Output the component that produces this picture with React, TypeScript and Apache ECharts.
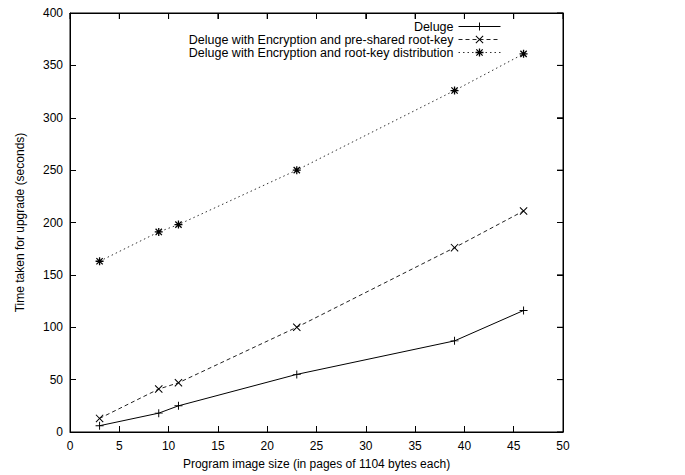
import React, { useEffect, useRef } from "react";
import * as echarts from "echarts";

const xValues = [3, 9, 11, 23, 39, 46];
const delugeValues = [6, 18, 25, 55, 87, 116];
const presharedValues = [13, 41, 47, 100, 176, 211];
const distributionValues = [163, 191, 198, 250, 326, 361];
const seriesNames = [
  "Deluge",
  "Deluge with Encryption and pre-shared root-key",
  "Deluge with Encryption and root-key distribution",
];
const xTickValues = [0, 5, 10, 15, 20, 25, 30, 35, 40, 45, 50];
const yTickValues = [0, 50, 100, 150, 200, 250, 300, 350, 400];

const plusSym = "path://M0,4.4 H10 V5.6 H0 Z M4.4,0 H5.6 V10 H4.4 Z";
const crossSym = "path://M0,0.9 L0.9,0 L10,9.1 L9.1,10 Z M9.1,0 L10,0.9 L0.9,10 L0,9.1 Z";
const starSym =
  "path://M0,4.2 H10 V5.8 H0 Z M4.2,0 H5.8 V10 H4.2 Z M0.5,1.6 L1.6,0.5 L9.5,8.4 L8.4,9.5 Z M8.4,0.5 L9.5,1.6 L1.6,9.5 L0.5,8.4 Z";

const FONT = "'Liberation Sans', Arial, Helvetica, sans-serif";
const X_MAX = 50;
const Y_MAX = 400;

export default function App() {
  const ref = useRef<HTMLDivElement>(null);
  useEffect(() => {
    document.body.style.margin = "0";
    if (!ref.current) return;
    const chart = echarts.init(ref.current, undefined, { renderer: "svg" });
    const zip = (ys: number[]) => xValues.map((x, i) => [x, ys[i]]);
    const axisLine = { show: true, onZero: false, lineStyle: { color: "#000", width: 1 } };
    const axisTick = { show: true, inside: true, length: 6, lineStyle: { color: "#000", width: 1 } };
    chart.setOption({
      animation: false,
      backgroundColor: "#fff",
      textStyle: { fontFamily: FONT },
      grid: {
        left: 70,
        right: 122,
        top: 13,
        bottom: 42,
        show: true,
        borderColor: "#000",
        borderWidth: 1,
      },
      legend: {
        orient: "vertical",
        align: "right",
        right: 179,
        top: 15,
        itemGap: 0,
        itemWidth: 42,
        itemHeight: 10,
        lineStyle: { width: 1 },
        textStyle: { fontFamily: FONT, fontSize: 12.5, lineHeight: 13, color: "#000" },
        data: seriesNames,
      },
      xAxis: [
        {
          type: "value",
          position: "bottom",
          min: 0,
          max: X_MAX,
          interval: 5,
          axisLine,
          axisTick,
          splitLine: { show: false },
          name: "Program image size (in pages of 1104 bytes each)",
          nameLocation: "middle",
          nameGap: 26,
          nameTextStyle: { fontFamily: FONT, fontSize: 12, color: "#000" },
          axisLabel: { margin: 8, fontFamily: FONT, fontSize: 12, color: "#000" },
        },
        {
          type: "value",
          position: "top",
          min: 0,
          max: X_MAX,
          interval: 5,
          axisLine,
          axisTick,
          splitLine: { show: false },
          axisLabel: { show: false },
        },
      ],
      yAxis: [
        {
          type: "value",
          position: "left",
          min: 0,
          max: Y_MAX,
          interval: 50,
          axisLine,
          axisTick,
          splitLine: { show: false },
          name: "Time taken for upgrade (seconds)",
          nameLocation: "middle",
          nameGap: 44,
          nameTextStyle: { fontFamily: FONT, fontSize: 12, color: "#000" },
          axisLabel: { margin: 7, fontFamily: FONT, fontSize: 12, color: "#000" },
        },
        {
          type: "value",
          position: "right",
          min: 0,
          max: Y_MAX,
          interval: 50,
          axisLine,
          axisTick,
          splitLine: { show: false },
          axisLabel: { show: false },
        },
      ],
      series: [
        {
          name: seriesNames[0],
          type: "line",
          xAxisIndex: 0,
          yAxisIndex: 0,
          data: zip(delugeValues),
          symbol: plusSym,
          symbolSize: 8,
          lineStyle: { color: "#000", width: 1, type: "solid" },
          itemStyle: { color: "#000" },
        },
        {
          name: seriesNames[1],
          type: "line",
          xAxisIndex: 0,
          yAxisIndex: 0,
          data: zip(presharedValues),
          symbol: crossSym,
          symbolSize: 8,
          lineStyle: { color: "#222", width: 1, type: [4, 3] },
          itemStyle: { color: "#000" },
        },
        {
          name: seriesNames[2],
          type: "line",
          xAxisIndex: 0,
          yAxisIndex: 0,
          data: zip(distributionValues),
          symbol: starSym,
          symbolSize: 8,
          lineStyle: { color: "#333", width: 1, type: [1.5, 3] },
          itemStyle: { color: "#000" },
        },
        {
          name: "mirror",
          type: "line",
          xAxisIndex: 1,
          yAxisIndex: 1,
          data: [[0, 0], [X_MAX, Y_MAX]],
          symbol: "none",
          lineStyle: { opacity: 0 },
          silent: true,
        },
      ],
    });

    try {
      const tickEls: any[] = [];
      xTickValues.forEach((v) => {
        const p = chart.convertToPixel({ xAxisIndex: 0, yAxisIndex: 0 }, [v, Y_MAX]) as number[];
        if (p) {
          tickEls.push({
            type: "line",
            silent: true,
            z: 100,
            shape: { x1: p[0], y1: p[1], x2: p[0], y2: p[1] + 6 },
            style: { stroke: "#000", lineWidth: 1 },
          });
        }
      });
      yTickValues.forEach((v) => {
        const p = chart.convertToPixel({ xAxisIndex: 0, yAxisIndex: 0 }, [X_MAX, v]) as number[];
        if (p) {
          tickEls.push({
            type: "line",
            silent: true,
            z: 100,
            shape: { x1: p[0], y1: p[1], x2: p[0] - 6, y2: p[1] },
            style: { stroke: "#000", lineWidth: 1 },
          });
        }
      });
      chart.setOption({ graphic: tickEls });
    } catch (e) {
      // ignore
    }

    return () => chart.dispose();
  }, []);
  return <div ref={ref} style={{ width: 685, height: 475 }} />;
}
